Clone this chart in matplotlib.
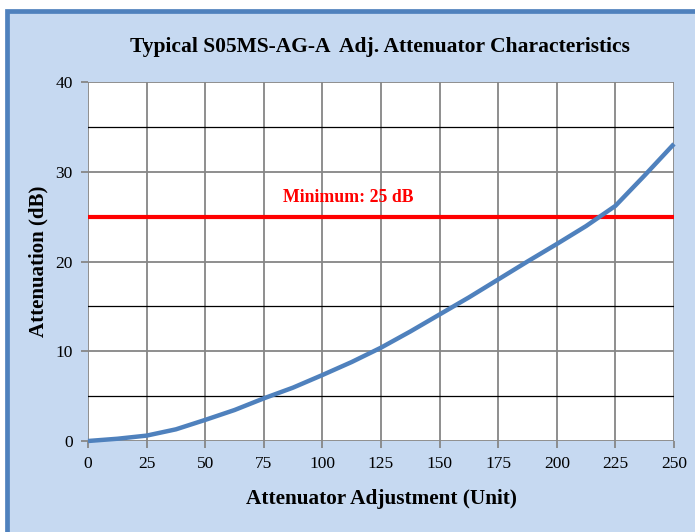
import matplotlib
matplotlib.use("Agg")
import matplotlib.pyplot as plt
from matplotlib.patches import Rectangle

# Data
adjustment = [0, 12.5, 25, 37.5, 50, 62.5, 75, 87.5, 100, 112.5, 125, 137.5,
              150, 162.5, 175, 187.5, 200, 212.5, 225, 237.5, 250]
attenuation = [0, 0.25, 0.6, 1.3, 2.35, 3.45, 4.75, 5.95, 7.35, 8.8, 10.4, 12.2,
               14.1, 16.0, 18.0, 20.0, 21.95, 23.95, 26.2, 29.6, 33.1]
minimum_db = 25
x_ticks = [0, 25, 50, 75, 100, 125, 150, 175, 200, 225, 250]
y_ticks = [0, 10, 20, 30, 40]
y_minor = [5, 15, 25, 35]

serif = ["Liberation Serif", "DejaVu Serif"]
W, H = 695, 532
fig = plt.figure(figsize=(W / 100, H / 100), dpi=100)
fig.patch.set_facecolor("white")

# Background box with blue border (top/left visible)
bg = Rectangle((6.5 / W, 0 - 0.05), 1.2, 1 - 10.5 / H + 0.05,
               transform=fig.transFigure, facecolor="#C6D9F1",
               edgecolor="#4F81BD", linewidth=3.4, zorder=-10)
fig.patches.append(bg)

ax = fig.add_axes([88 / W, 1 - 441 / H, (674 - 88) / W, (441 - 82) / H])
ax.set_zorder(5)
ax.set_facecolor("white")
ax.set_xlim(0, 250)
ax.set_ylim(0, 40)

grid_gray = "#868686"
for v in x_ticks:
    ax.axvline(v, color=grid_gray, lw=1.3, zorder=1)
for v in y_ticks:
    ax.axhline(v, color=grid_gray, lw=1.3, zorder=1)
for v in y_minor:
    ax.axhline(v, color="#000000", lw=0.9, zorder=1)

for s in ax.spines.values():
    s.set_visible(False)

ax.set_xticks(x_ticks)
ax.set_yticks(y_ticks)
ax.tick_params(axis="both", direction="out", length=5, width=1.3,
               color=grid_gray, labelsize=12.5)
ax.tick_params(axis="x", pad=6)
ax.tick_params(axis="y", pad=6)
for lab in ax.get_xticklabels() + ax.get_yticklabels():
    lab.set_fontfamily(serif)

ax.axhline(minimum_db, color="#FF0000", lw=3.0, zorder=3)
ax.text(111, minimum_db + 1.2, "Minimum: " + str(minimum_db) + " dB",
        color="#FF0000", fontsize=12.8, fontweight="bold", family=serif,
        ha="center", va="bottom", zorder=4)

ax.plot(adjustment, attenuation, color="#4F81BD", lw=3.2,
        solid_joinstyle="round", solid_capstyle="butt", zorder=5, clip_on=False)

fig.text(380 / W, 1 - 47 / H,
         "Typical S05MS-AG-A  Adj. Attenuator Characteristics",
         fontsize=15.5, fontweight="bold", family=serif, ha="center", va="center")
ax.set_xlabel("Attenuator Adjustment (Unit)", fontsize=15.3, fontweight="bold",
              family=serif, labelpad=12)
ax.set_ylabel("Attenuation (dB)", fontsize=15, fontweight="bold",
              family=serif, labelpad=5)

fig.savefig("out.png", dpi=100)
